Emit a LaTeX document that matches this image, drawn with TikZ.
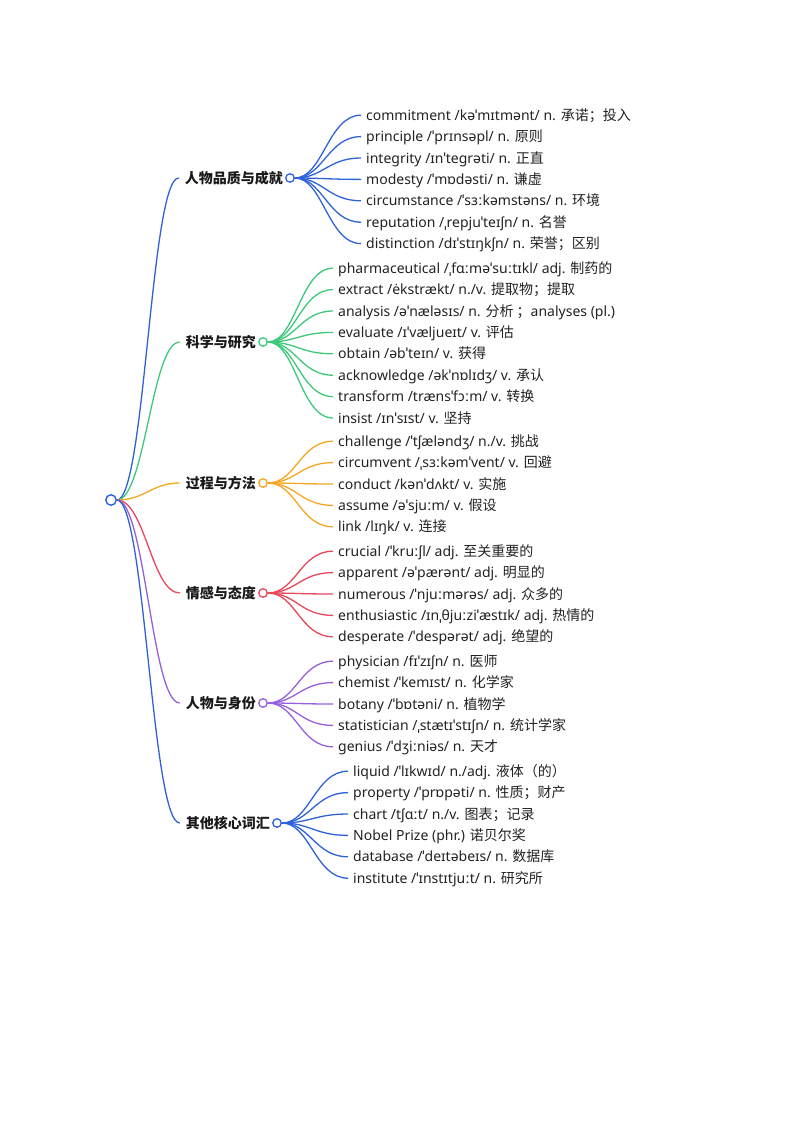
\documentclass[tikz,border=0pt]{standalone}
\usepackage{fontspec}
\setmainfont{Noto Sans}
\newfontfamily\zhfont{Noto Sans CJK SC}
\newcommand{\zh}[1]{{\zhfont #1}}
\usepackage{tikz}
\usetikzlibrary{positioning}
\definecolor{mapblue}{HTML}{2E62D9}
\definecolor{mapgreen}{HTML}{3DC87A}
\definecolor{maporange}{HTML}{F5A623}
\definecolor{mapred}{HTML}{E8475A}
\definecolor{mappurple}{HTML}{9560DB}
\definecolor{mapink}{HTML}{222222}
\tikzstyle{leaf} = [anchor=north west, inner xsep=5pt, inner ysep=0pt, minimum height=21pt, text height=13pt, text depth=3pt, text=mapink, font=\fontsize{14}{16}\selectfont]
\tikzstyle{topic} = [inner sep=0pt, text=black!90, font=\zhfont\bfseries\fontsize{14}{16}\selectfont]
\tikzstyle{hub} = [circle, fill=white, line width=1.3pt, minimum size=8.5pt, inner sep=0pt]
\tikzstyle{core} = [circle, draw=mapblue, fill=white, line width=1.4pt, minimum size=10.5pt, inner sep=0pt]
\tikzstyle{branch} = [line width=1.3pt]
\tikzstyle{stem} = [line width=1.3pt, shorten >=6pt]

\begin{document}
\begin{tikzpicture}[x=1pt, y=-1pt]
    \useasboundingbox (0,0) rectangle (800,1132);

    \node[core] (root) at (111,500) {};
    \node[hub, draw=mapblue] (quality) at (290,178) {};
    \node[hub, draw=mapgreen] (science) at (263,342) {};
    \node[hub, draw=maporange] (process) at (263,483) {};
    \node[hub, draw=mapred] (attitude) at (263,593) {};
    \node[hub, draw=mappurple] (identity) at (263,703) {};
    \node[hub, draw=mapblue] (other) at (277,823) {};

    \node[topic, left=2pt of quality] (qualitylabel) {人物品质与成就};
    \node[topic, left=2pt of science] (sciencelabel) {科学与研究};
    \node[topic, left=2pt of process] (processlabel) {过程与方法};
    \node[topic, left=2pt of attitude] (attitudelabel) {情感与态度};
    \node[topic, left=2pt of identity] (identitylabel) {人物与身份};
    \node[topic, left=2pt of other] (otherlabel) {其他核心词汇};

    % person quality
    \node[leaf] (commitment) at (361,104.5) {commitment /kəˈmɪtmənt/ n. \zh{承诺；投入}};
    \node[below=0pt of commitment.south west, leaf] (principle) {principle /ˈprɪnsəpl/ n. \zh{原则}};
    \node[below=0pt of principle.south west, leaf] (integrity) {integrity /ɪnˈtegrəti/ n. \zh{正直}};
    \node[below=0pt of integrity.south west, leaf] (modesty) {modesty /ˈmɒdəsti/ n. \zh{谦虚}};
    \node[below=0pt of modesty.south west, leaf] (circumstance) {circumstance /ˈsɜːkəmstəns/ n. \zh{环境}};
    \node[below=0pt of circumstance.south west, leaf] (reputation) {reputation /ˌrepjuˈteɪʃn/ n. \zh{名誉}};
    \node[below=0pt of reputation.south west, leaf] (distinction) {distinction /dɪˈstɪŋkʃn/ n. \zh{荣誉；区别}};

    % science
    \node[leaf] (pharmaceutical) at (333,257.5) {pharmaceutical /ˌfɑːməˈsuːtɪkl/ adj. \zh{制药的}};
    \node[below=0pt of pharmaceutical.south west, leaf] (extract) {extract /ėkstrækt/ n./v. \zh{提取物；提取}};
    \node[below=0pt of extract.south west, leaf] (analysis) {analysis /əˈnæləsɪs/ n. \zh{分析 ；}analyses (pl.)};
    \node[below=0pt of analysis.south west, leaf] (evaluate) {evaluate /ɪˈvæljueɪt/ v. \zh{评估}};
    \node[below=0pt of evaluate.south west, leaf] (obtain) {obtain /əbˈteɪn/ v. \zh{获得}};
    \node[below=0pt of obtain.south west, leaf] (acknowledge) {acknowledge /əkˈnɒlɪdʒ/ v. \zh{承认}};
    \node[below=0pt of acknowledge.south west, leaf] (transform) {transform /trænsˈfɔːm/ v. \zh{转换}};
    \node[below=0pt of transform.south west, leaf] (insist) {insist /ɪnˈsɪst/ v. \zh{坚持}};

    % process and method
    \node[leaf] (challenge) at (333,430.5) {challenge /ˈtʃæləndʒ/ n./v. \zh{挑战}};
    \node[below=0pt of challenge.south west, leaf] (circumvent) {circumvent /ˌsɜːkəmˈvent/ v. \zh{回避}};
    \node[below=0pt of circumvent.south west, leaf] (conduct) {conduct /kənˈdʌkt/ v. \zh{实施}};
    \node[below=0pt of conduct.south west, leaf] (assume) {assume /əˈsjuːm/ v. \zh{假设}};
    \node[below=0pt of assume.south west, leaf] (link) {link /lɪŋk/ v. \zh{连接}};

    % attitude
    \node[leaf] (crucial) at (333,540.5) {crucial /ˈkruːʃl/ adj. \zh{至关重要的}};
    \node[below=0pt of crucial.south west, leaf] (apparent) {apparent /əˈpærənt/ adj. \zh{明显的}};
    \node[below=0pt of apparent.south west, leaf] (numerous) {numerous /ˈnjuːmərəs/ adj. \zh{众多的}};
    \node[below=0pt of numerous.south west, leaf] (enthusiastic) {enthusiastic /ɪnˌθjuːziˈæstɪk/ adj. \zh{热情的}};
    \node[below=0pt of enthusiastic.south west, leaf] (desperate) {desperate /ˈdespərət/ adj. \zh{绝望的}};

    % identity
    \node[leaf] (physician) at (333,650.5) {physician /fɪˈzɪʃn/ n. \zh{医师}};
    \node[below=0pt of physician.south west, leaf] (chemist) {chemist /ˈkemɪst/ n. \zh{化学家}};
    \node[below=0pt of chemist.south west, leaf] (botany) {botany /ˈbɒtəni/ n. \zh{植物学}};
    \node[below=0pt of botany.south west, leaf] (statistician) {statistician /ˌstætɪˈstɪʃn/ n. \zh{统计学家}};
    \node[below=0pt of statistician.south west, leaf] (genius) {genius /ˈdʒiːniəs/ n. \zh{天才}};

    % other core words
    \node[leaf] (liquid) at (348,760.5) {liquid /ˈlɪkwɪd/ n./adj. \zh{液体（的）}};
    \node[below=0pt of liquid.south west, leaf] (property) {property /ˈprɒpəti/ n. \zh{性质；财产}};
    \node[below=0pt of property.south west, leaf] (chart) {chart /tʃɑːt/ n./v. \zh{图表；记录}};
    \node[below=0pt of chart.south west, leaf] (nobel) {Nobel Prize (phr.) \zh{诺贝尔奖}};
    \node[below=0pt of nobel.south west, leaf] (database) {database /ˈdeɪtəbeɪs/ n. \zh{数据库}};
    \node[below=0pt of database.south west, leaf] (institute) {institute /ˈɪnstɪtjuːt/ n. \zh{研究所}};

    \draw[stem, mapblue] (root) .. controls +(34,0) and +(-34,0) .. (qualitylabel.west);
    \draw[stem, mapgreen] (root) .. controls +(34,0) and +(-34,0) .. (sciencelabel.west);
    \draw[stem, maporange] (root) .. controls +(34,0) and +(-34,0) .. (processlabel.west);
    \draw[stem, mapred] (root) .. controls +(34,0) and +(-34,0) .. (attitudelabel.west);
    \draw[stem, mappurple] (root) .. controls +(34,0) and +(-34,0) .. (identitylabel.west);
    \draw[stem, mapblue] (root) .. controls +(34,0) and +(-34,0) .. (otherlabel.west);

    \draw[branch, mapblue] (quality) .. controls +(33,0) and +(-33,0) .. (commitment.west);
    \draw[branch, mapblue] (quality) .. controls +(33,0) and +(-33,0) .. (principle.west);
    \draw[branch, mapblue] (quality) .. controls +(33,0) and +(-33,0) .. (integrity.west);
    \draw[branch, mapblue] (quality) .. controls +(33,0) and +(-33,0) .. (modesty.west);
    \draw[branch, mapblue] (quality) .. controls +(33,0) and +(-33,0) .. (circumstance.west);
    \draw[branch, mapblue] (quality) .. controls +(33,0) and +(-33,0) .. (reputation.west);
    \draw[branch, mapblue] (quality) .. controls +(33,0) and +(-33,0) .. (distinction.west);

    \draw[branch, mapgreen] (science) .. controls +(33,0) and +(-33,0) .. (pharmaceutical.west);
    \draw[branch, mapgreen] (science) .. controls +(33,0) and +(-33,0) .. (extract.west);
    \draw[branch, mapgreen] (science) .. controls +(33,0) and +(-33,0) .. (analysis.west);
    \draw[branch, mapgreen] (science) .. controls +(33,0) and +(-33,0) .. (evaluate.west);
    \draw[branch, mapgreen] (science) .. controls +(33,0) and +(-33,0) .. (obtain.west);
    \draw[branch, mapgreen] (science) .. controls +(33,0) and +(-33,0) .. (acknowledge.west);
    \draw[branch, mapgreen] (science) .. controls +(33,0) and +(-33,0) .. (transform.west);
    \draw[branch, mapgreen] (science) .. controls +(33,0) and +(-33,0) .. (insist.west);

    \draw[branch, maporange] (process) .. controls +(33,0) and +(-33,0) .. (challenge.west);
    \draw[branch, maporange] (process) .. controls +(33,0) and +(-33,0) .. (circumvent.west);
    \draw[branch, maporange] (process) .. controls +(33,0) and +(-33,0) .. (conduct.west);
    \draw[branch, maporange] (process) .. controls +(33,0) and +(-33,0) .. (assume.west);
    \draw[branch, maporange] (process) .. controls +(33,0) and +(-33,0) .. (link.west);

    \draw[branch, mapred] (attitude) .. controls +(33,0) and +(-33,0) .. (crucial.west);
    \draw[branch, mapred] (attitude) .. controls +(33,0) and +(-33,0) .. (apparent.west);
    \draw[branch, mapred] (attitude) .. controls +(33,0) and +(-33,0) .. (numerous.west);
    \draw[branch, mapred] (attitude) .. controls +(33,0) and +(-33,0) .. (enthusiastic.west);
    \draw[branch, mapred] (attitude) .. controls +(33,0) and +(-33,0) .. (desperate.west);

    \draw[branch, mappurple] (identity) .. controls +(33,0) and +(-33,0) .. (physician.west);
    \draw[branch, mappurple] (identity) .. controls +(33,0) and +(-33,0) .. (chemist.west);
    \draw[branch, mappurple] (identity) .. controls +(33,0) and +(-33,0) .. (botany.west);
    \draw[branch, mappurple] (identity) .. controls +(33,0) and +(-33,0) .. (statistician.west);
    \draw[branch, mappurple] (identity) .. controls +(33,0) and +(-33,0) .. (genius.west);

    \draw[branch, mapblue] (other) .. controls +(33,0) and +(-33,0) .. (liquid.west);
    \draw[branch, mapblue] (other) .. controls +(33,0) and +(-33,0) .. (property.west);
    \draw[branch, mapblue] (other) .. controls +(33,0) and +(-33,0) .. (chart.west);
    \draw[branch, mapblue] (other) .. controls +(33,0) and +(-33,0) .. (nobel.west);
    \draw[branch, mapblue] (other) .. controls +(33,0) and +(-33,0) .. (database.west);
    \draw[branch, mapblue] (other) .. controls +(33,0) and +(-33,0) .. (institute.west);
\end{tikzpicture}
\end{document}
